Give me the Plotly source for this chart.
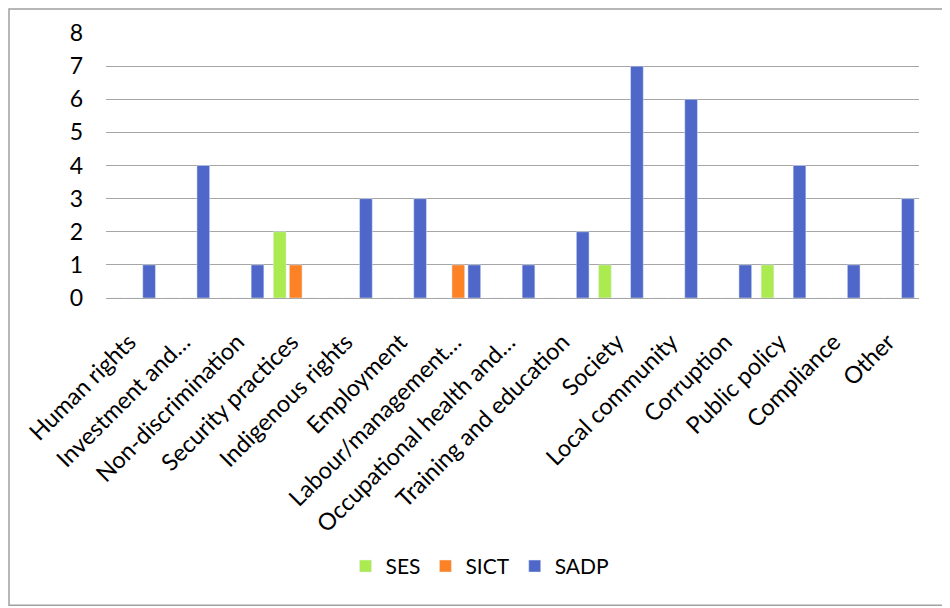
import plotly.graph_objects as go

categories = ["Human rights", "Investment and…", "Non-discrimination", "Security practices",
              "Indigenous rights", "Employment", "Labour/management…", "Occupational health and…",
              "Training and education", "Society", "Local community", "Corruption",
              "Public policy", "Compliance", "Other"]
ses = [0, 0, 0, 2, 0, 0, 0, 0, 0, 1, 0, 0, 1, 0, 0]
sict = [0, 0, 0, 1, 0, 0, 1, 0, 0, 0, 0, 0, 0, 0, 0]
sadp = [1, 4, 1, 0, 3, 3, 1, 1, 2, 7, 6, 1, 4, 1, 3]
y_ticks = [0, 1, 2, 3, 4, 5, 6, 7, 8]

FONT = "Lato"
FS = 23.5
fig = go.Figure()
fig.add_bar(name="SES", x=categories, y=ses, marker_color="#ABEB50")
fig.add_bar(name="SICT", x=categories, y=sict, marker_color="#FD8226")
fig.add_bar(name="SADP", x=categories, y=sadp, marker_color="#4E67C8")

# page has an 8px body margin; figure coordinates are page - 8
OFF = 8
W, H = 950, 608
L, T = 106 - OFF, 33 - OFF
R = W - (919 - OFF)
B = H - (298.3 - OFF)
pw, ph = W - L - R, H - T - B

def px(x):
    return (x - OFF - L) / pw

def py(y):
    return (H - B - (y - OFF)) / ph

fig.update_layout(
    width=W, height=H,
    margin=dict(l=L, r=R, t=T, b=B, autoexpand=False),
    paper_bgcolor="white", plot_bgcolor="white",
    barmode="group", bargap=0.114, bargroupgap=0.206,
    font=dict(family=FONT, size=FS, color="#000000"),
    showlegend=True,
    legend=dict(orientation="h", xref="paper", x=px(480), xanchor="center",
                y=py(567), yanchor="middle",
                font=dict(family=FONT, size=21, color="#000000"),
                itemwidth=30, tracegroupgap=0, traceorder="normal"),
    xaxis=dict(tickangle=-45, showgrid=False, showline=True, linecolor="#A6A6A6", linewidth=1,
               ticks="", tickfont=dict(family=FONT, size=FS), ticklabelstandoff=20,
               ticklabelshift=-4, fixedrange=True),
    yaxis=dict(range=[0, 8], tickvals=y_ticks, showgrid=True, gridcolor="#A6A6A6", gridwidth=1,
               zeroline=False, showline=False, ticks="", tickfont=dict(family=FONT, size=23),
               ticklabelstandoff=22, fixedrange=True),
    shapes=[dict(type="rect", xref="paper", yref="paper",
                 x0=px(9), x1=px(947.5), y0=py(606), y1=py(9),
                 line=dict(color="#A0A0A0", width=1.5), fillcolor="rgba(0,0,0,0)", layer="below")],
)

fig.write_html("out.html")
